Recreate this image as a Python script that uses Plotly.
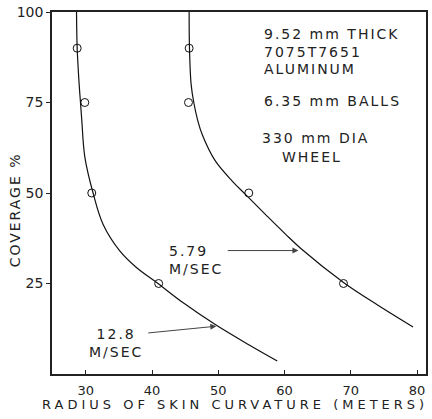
import plotly.graph_objects as go

# Fitted curves
curve_128_x = [28.6, 28.7, 29.0, 29.2, 29.4, 29.85, 31.1, 32.6, 35.1, 37.6, 40.9, 44.6, 49.6, 54.6, 58.9]
curve_128_y = [100, 90, 80, 75, 70, 60, 50, 41.4, 34.1, 29.5, 25, 19.8, 13.6, 8.1, 3.6]
curve_579_x = [45.6, 45.65, 45.9, 46.3, 46.9, 47.6, 49.5, 52.1, 54.1, 57.1, 60.1, 62.5, 68.9, 74.1, 79.4]
curve_579_y = [100, 90, 80, 75, 70, 66, 59, 53.3, 49.6, 44.1, 38.7, 34.6, 25.3, 19, 13]

# Measured points (open circles)
pts_128_x = [28.7, 29.85, 30.9, 41.0]
pts_128_y = [90, 75, 50, 25]
pts_579_x = [45.6, 45.5, 54.6, 68.9]
pts_579_y = [90, 75, 50, 25]

x_ticks = [30, 40, 50, 60, 70, 80]
y_ticks = [25, 50, 75, 100]

FONT = "DejaVu Sans"
INK = "#222222"


def spaced(t, ls=2):
    return '<span style="letter-spacing:%spx">%s</span>' % (ls, t)


fig = go.Figure()
for cx, cy in [(curve_128_x, curve_128_y), (curve_579_x, curve_579_y)]:
    fig.add_trace(go.Scatter(x=cx, y=cy, mode="lines",
                             line=dict(color="#111111", width=1.2, shape="spline", smoothing=1.0),
                             hoverinfo="skip", showlegend=False))
for px, py in [(pts_128_x, pts_128_y), (pts_579_x, pts_579_y)]:
    fig.add_trace(go.Scatter(x=px, y=py, mode="markers",
                             marker=dict(symbol="circle-open", size=8, color="#111111",
                                         line=dict(width=1, color="#111111")),
                             showlegend=False))

ann = []
block = [
    ("9.52 mm THICK", 56.6, 93.96, "left"),
    ("7075T7651", 56.6, 89.0, "left"),
    ("ALUMINUM", 56.6, 84.3, "left"),
    ("6.35 mm BALLS", 56.6, 75.3, "left"),
    ("330 mm DIA", 56.3, 65.1, "left"),
    ("WHEEL", 64.2, 59.9, "center"),
]
for t, x, y, a in block:
    ann.append(dict(text=spaced(t), x=x, y=y, xref="x", yref="y", showarrow=False,
                    xanchor=a, yanchor="middle", font=dict(family=FONT, size=14, color=INK)))

ann.append(dict(text=spaced("5.79") + "<br>" + spaced("M/SEC"), x=42.2, y=31.6, xref="x", yref="y",
                showarrow=False, xanchor="left", yanchor="middle", align="left",
                font=dict(family=FONT, size=14, color=INK)))
ann.append(dict(text=spaced("12.8") + "<br>" + spaced("M/SEC"), x=34.5, y=8.65, xref="x", yref="y",
                showarrow=False, xanchor="center", yanchor="middle", align="center",
                font=dict(family=FONT, size=14, color=INK)))
ann.append(dict(text="", x=62.1, y=34.1, ax=51.2, ay=34.1, xref="x", yref="y", axref="x", ayref="y",
                showarrow=True, arrowhead=2, arrowsize=1.2, arrowwidth=1, arrowcolor="#444444"))
ann.append(dict(text="", x=49.7, y=13.2, ax=39.2, ay=11.3, xref="x", yref="y", axref="x", ayref="y",
                showarrow=True, arrowhead=2, arrowsize=1.2, arrowwidth=1, arrowcolor="#444444"))
# Axis titles
ann.append(dict(text=spaced("COVERAGE %"), x=-0.098, y=45.3, xref="paper", yref="y", showarrow=False,
                textangle=-90, xanchor="center", yanchor="middle",
                font=dict(family=FONT, size=14, color=INK)))
ann.append(dict(text=spaced("RADIUS OF SKIN CURVATURE (METERS)", 4), x=0.49, y=-0.085, xref="paper",
                yref="paper", showarrow=False, xanchor="center", yanchor="middle",
                font=dict(family=FONT, size=13, color=INK)))

fig.update_layout(
    width=432, height=419,
    margin=dict(l=52, r=4, t=10, b=45),
    paper_bgcolor="white", plot_bgcolor="white",
    annotations=ann,
    xaxis=dict(range=[24.9, 81.35], tickvals=x_ticks, ticks="inside", ticklen=4, tickcolor=INK,
               showgrid=False, zeroline=False, showline=True, linecolor=INK, linewidth=1.5, mirror=True,
               ticklabelstandoff=4,
               tickfont=dict(family=FONT, size=13, color=INK)),
    yaxis=dict(range=[0, 100], tickvals=y_ticks, ticks="outside", ticklen=4, tickcolor=INK,
               showgrid=False, zeroline=False, showline=True, linecolor=INK, linewidth=1.5, mirror=True,
               tickfont=dict(family=FONT, size=14, color=INK)),
)

fig.write_html("out.html", config={"displayModeBar": False},
               post_script="document.body.style.margin='0';document.body.style.overflow='hidden';")
